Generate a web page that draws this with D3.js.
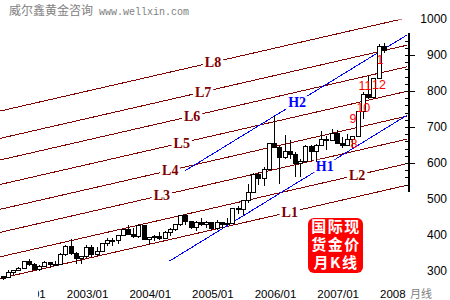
<!DOCTYPE html>
<html>
<head>
<meta charset="utf-8">
<script src="https://cdn.jsdelivr.net/npm/d3@7/dist/d3.min.js"></script>
<style>
  body { margin: 0; background: #fff; }
  svg { display: block; }
</style>
</head>
<body>
<svg id="chart" width="450" height="300"></svg>
<script>
// monthly gold candles, Jan 2002 .. Feb 2008 (index 0 = 2002/01)
const openP = [
  284, 282, 297, 301, 308, 326, 318, 304, 313, 324, 317, 318,
  347, 368, 348, 335, 339, 364, 346, 355, 376, 384, 386, 398,
  416, 402, 397, 427, 388, 394, 395, 391, 407, 416, 429, 453,
  438, 422, 435, 428, 435, 417, 435, 429, 433, 473, 470, 495,
  517, 569, 556, 582, 654, 643, 614, 633, 624, 599, 604, 647,
  632, 650, 665, 663, 681, 655, 650, 666, 673, 743, 789, 783,
  834, 924
];
const highP = [
  287, 303, 304, 312, 327, 332, 322, 318, 327, 326, 327, 350,
  371, 389, 352, 341, 372, 371, 366, 378, 391, 391, 399, 417,
  428, 419, 431, 427, 395, 400, 409, 412, 420, 430, 456, 457,
  438, 438, 448, 438, 436, 441, 436, 448, 475, 480, 497, 541,
  571, 575, 588, 654, 730, 646, 677, 664, 630, 610, 649, 649,
  654, 690, 674, 694, 693, 672, 680, 675, 745, 797, 841, 835,
  930, 932
];
const lowP = [
  276, 282, 288, 300, 306, 313, 302, 301, 311, 309, 314, 316,
  343, 345, 320, 320, 337, 340, 341, 353, 369, 370, 376, 398,
  399, 393, 391, 385, 371, 384, 387, 389, 398, 411, 424, 428,
  418, 411, 424, 420, 414, 414, 418, 427, 432, 458, 456, 489,
  516, 538, 535, 580, 641, 543, 610, 612, 560, 560, 604, 606,
  604, 649, 636, 663, 652, 641, 648, 643, 672, 723, 777, 781,
  833, 905
];
const closeP = [
  279, 297, 301, 308, 326, 318, 305, 313, 324, 317, 318, 347,
  368, 348, 335, 339, 364, 346, 355, 376, 384, 386, 398, 416,
  402, 397, 427, 388, 394, 395, 391, 407, 416, 429, 453, 438,
  422, 435, 428, 435, 417, 435, 429, 433, 473, 470, 495, 517,
  569, 556, 582, 654, 643, 614, 633, 624, 599, 604, 647, 632,
  650, 665, 663, 681, 655, 650, 666, 673, 743, 789, 783, 834,
  924, 912
];

// parallel channel lines L1..L8: price at month 0 and at month 78
const channelNames = ["L1", "L2", "L3", "L4", "L5", "L6", "L7", "L8"];
const channelStart = [281, 341, 409, 473, 542, 610, 670, 746];
const channelEnd = [540, 600, 668, 732, 801, 869, 929, 1005];
const channelLabelAt = [55.0, 67.9, 30.5, 32.1, 34.3, 36.3, 38.4, 40.3];

// blue trend lines H1, H2: [month, price] endpoints
const trendNames = ["H1", "H2"];
const trendFrom = [[32.0, 328], [34.9, 578]];
const trendTo = [[77.5, 733], [77.5, 956]];
const trendLabelAt = [61.7, 56.4];

// red month marks on the last candles
const markText = ["8", "9", "10", "11", "12", "1"];
const markMonth = [67.3, 67.1, 69.1, 69.4, 72.1, 72.3];
const markPrice = [653, 722, 755, 814, 817, 886];

const yTicks = [300, 400, 500, 600, 700, 800, 900, 1000];
const xTickMonths = [0, 12, 24, 36, 48, 60, 72];
const xTickLabels = ["2002/01", "2003/01", "2004/01", "2005/01", "2006/01", "2007/01", "2008"];

const x = d3.scaleLinear().domain([0, 72]).range([2.7, 378.5]);
const y = d3.scaleLinear().domain([300, 1000]).range([271, 19]);

const svg = d3.select("#chart");
const defs = svg.append("defs");
defs.append("clipPath").attr("id", "plot")
  .append("rect").attr("x", 0).attr("y", 19.5).attr("width", 407).attr("height", 270);
defs.append("clipPath").attr("id", "xlab")
  .append("rect").attr("x", 38).attr("y", 270).attr("width", 420).attr("height", 30);

const line = d3.line().x((d) => x(d[0])).y((d) => y(d[1]));

// channel lines
const chanLayer = svg.append("g").attr("clip-path", "url(#plot)");
const channelAt = (i, m) => channelStart[i] + (channelEnd[i] - channelStart[i]) * m / 78;
chanLayer.selectAll("path.chan")
  .data(channelNames)
  .join("path")
  .attr("class", "chan")
  .attr("d", (_, i) => line([[-1, channelAt(i, -1)], [78, channelAt(i, 78)]]))
  .attr("fill", "none")
  .attr("stroke", "#800000")
  .attr("stroke-width", 1)
  .attr("shape-rendering", "crispEdges");

// blue trend lines
chanLayer.selectAll("path.trend")
  .data(trendNames)
  .join("path")
  .attr("class", "trend")
  .attr("d", (_, i) => line([trendFrom[i], trendTo[i]]))
  .attr("fill", "none")
  .attr("stroke", "#0000ff")
  .attr("stroke-width", 1)
  .attr("shape-rendering", "crispEdges");

// line labels with a white gap behind them
const labelLayer = svg.append("g");
function addLineLabel(text, m, v, color) {
  const g = labelLayer.append("g");
  const t = g.append("text")
    .attr("x", x(m))
    .attr("y", y(v))
    .attr("dy", "0.35em")
    .attr("text-anchor", "middle")
    .attr("font-family", "'Liberation Serif', 'Times New Roman', serif")
    .attr("font-weight", "bold")
    .attr("font-size", 14)
    .attr("fill", color)
    .text(text);
  const b = t.node().getBBox();
  g.insert("rect", "text")
    .attr("x", b.x - 2).attr("y", b.y + 1)
    .attr("width", b.width + 4).attr("height", b.height - 2)
    .attr("fill", "#fff");
}
channelNames.forEach((name, i) => {
  addLineLabel(name, channelLabelAt[i], channelAt(i, channelLabelAt[i]), "#800000");
});
trendNames.forEach((name, i) => {
  const [m0, v0] = trendFrom[i];
  const [m1, v1] = trendTo[i];
  const m = trendLabelAt[i];
  addLineLabel(name, m, v0 + (v1 - v0) * (m - m0) / (m1 - m0), "#0000ff");
});

// candles
const candles = openP.map((o, i) => ({
  m: i, o, h: highP[i], l: lowP[i], c: closeP[i]
}));
const candleLayer = svg.append("g").attr("shape-rendering", "crispEdges");
candleLayer.selectAll("line.wick")
  .data(candles)
  .join("line")
  .attr("class", "wick")
  .attr("x1", (d) => Math.round(x(d.m)) + 0.5)
  .attr("x2", (d) => Math.round(x(d.m)) + 0.5)
  .attr("y1", (d) => y(d.h))
  .attr("y2", (d) => y(d.l))
  .attr("stroke", "#000");
candleLayer.selectAll("rect.body")
  .data(candles)
  .join("rect")
  .attr("class", "body")
  .attr("x", (d) => Math.round(x(d.m)) - 1.5)
  .attr("width", 4)
  .attr("y", (d) => y(Math.max(d.o, d.c)))
  .attr("height", (d) => Math.max(1, Math.abs(y(d.o) - y(d.c))))
  .attr("fill", (d) => (d.c >= d.o ? "#fff" : "#000"))
  .attr("stroke", "#000");

// red month marks
svg.append("g").selectAll("text")
  .data(markText)
  .join("text")
  .attr("x", (_, i) => x(markMonth[i]))
  .attr("y", (_, i) => y(markPrice[i]))
  .attr("dy", "0.35em")
  .attr("text-anchor", "middle")
  .attr("font-family", "'Liberation Sans', Arial, sans-serif")
  .attr("font-size", 12.5)
  .attr("fill", "#ff0000")
  .text((d) => d);

// right ruler
const rulerX = 409;
const ruler = svg.append("g").attr("shape-rendering", "crispEdges");
ruler.append("line")
  .attr("x1", rulerX).attr("x2", rulerX)
  .attr("y1", y(960)).attr("y2", y(520))
  .attr("stroke", "#000").attr("stroke-width", 2);
ruler.append("g")
  .attr("transform", `translate(${rulerX - 1},0)`)
  .call(d3.axisLeft(y).tickValues(d3.range(540, 960, 20)).tickSize(3).tickFormat(""))
  .call((g) => g.select(".domain").remove());
ruler.append("g")
  .attr("transform", `translate(${rulerX - 3},0)`)
  .call(d3.axisRight(y).tickValues([600, 700, 800, 900]).tickSize(9).tickFormat(""))
  .call((g) => g.select(".domain").remove());

// price labels
svg.append("g").selectAll("text")
  .data(yTicks)
  .join("text")
  .attr("x", 447)
  .attr("y", (d) => y(d))
  .attr("dy", "0.36em")
  .attr("text-anchor", "end")
  .attr("font-family", "'Liberation Sans', Arial, sans-serif")
  .attr("font-size", 12)
  .attr("fill", "#000")
  .text((d) => d);

// date labels
svg.append("g").attr("clip-path", "url(#xlab)").selectAll("text")
  .data(xTickLabels)
  .join("text")
  .attr("x", (_, i) => x(xTickMonths[i]) + 1.5)
  .attr("y", 298)
  .attr("font-family", "'Liberation Sans', Arial, sans-serif")
  .attr("font-size", 11.5)
  .attr("fill", "#000")
  .text((d) => d);
svg.append("text")
  .attr("x", 410).attr("y", 298)
  .attr("font-family", "'Noto Sans CJK SC', sans-serif")
  .attr("font-size", 11)
  .attr("fill", "#808080")
  .text("月线");

// badge
const badge = svg.append("g");
badge.append("rect")
  .attr("x", 308).attr("y", 218).attr("width", 55).attr("height", 55)
  .attr("rx", 6).attr("fill", "#ff0000");
badge.selectAll("text")
  .data(["国际现", "货金价", "月K线"])
  .join("text")
  .attr("x", 336)
  .attr("y", (_, i) => 226 + i * 18)
  .attr("dy", "0.38em")
  .attr("text-anchor", "middle")
  .attr("font-family", "'Noto Sans CJK SC', sans-serif")
  .attr("font-weight", "bold")
  .attr("font-size", 15)
  .attr("letter-spacing", 1.5)
  .attr("fill", "#fff")
  .text((d) => d);

// watermark
svg.append("text")
  .attr("x", 9).attr("y", 15)
  .attr("font-family", "'Noto Sans CJK SC', sans-serif")
  .attr("font-size", 12)
  .attr("fill", "#808080")
  .text("威尔鑫黄金咨询");
svg.append("text")
  .attr("x", 99).attr("y", 15)
  .attr("font-family", "'Liberation Mono', monospace")
  .attr("font-size", 10)
  .attr("fill", "#808080")
  .text("www.wellxin.com");
</script>
</body>
</html>
